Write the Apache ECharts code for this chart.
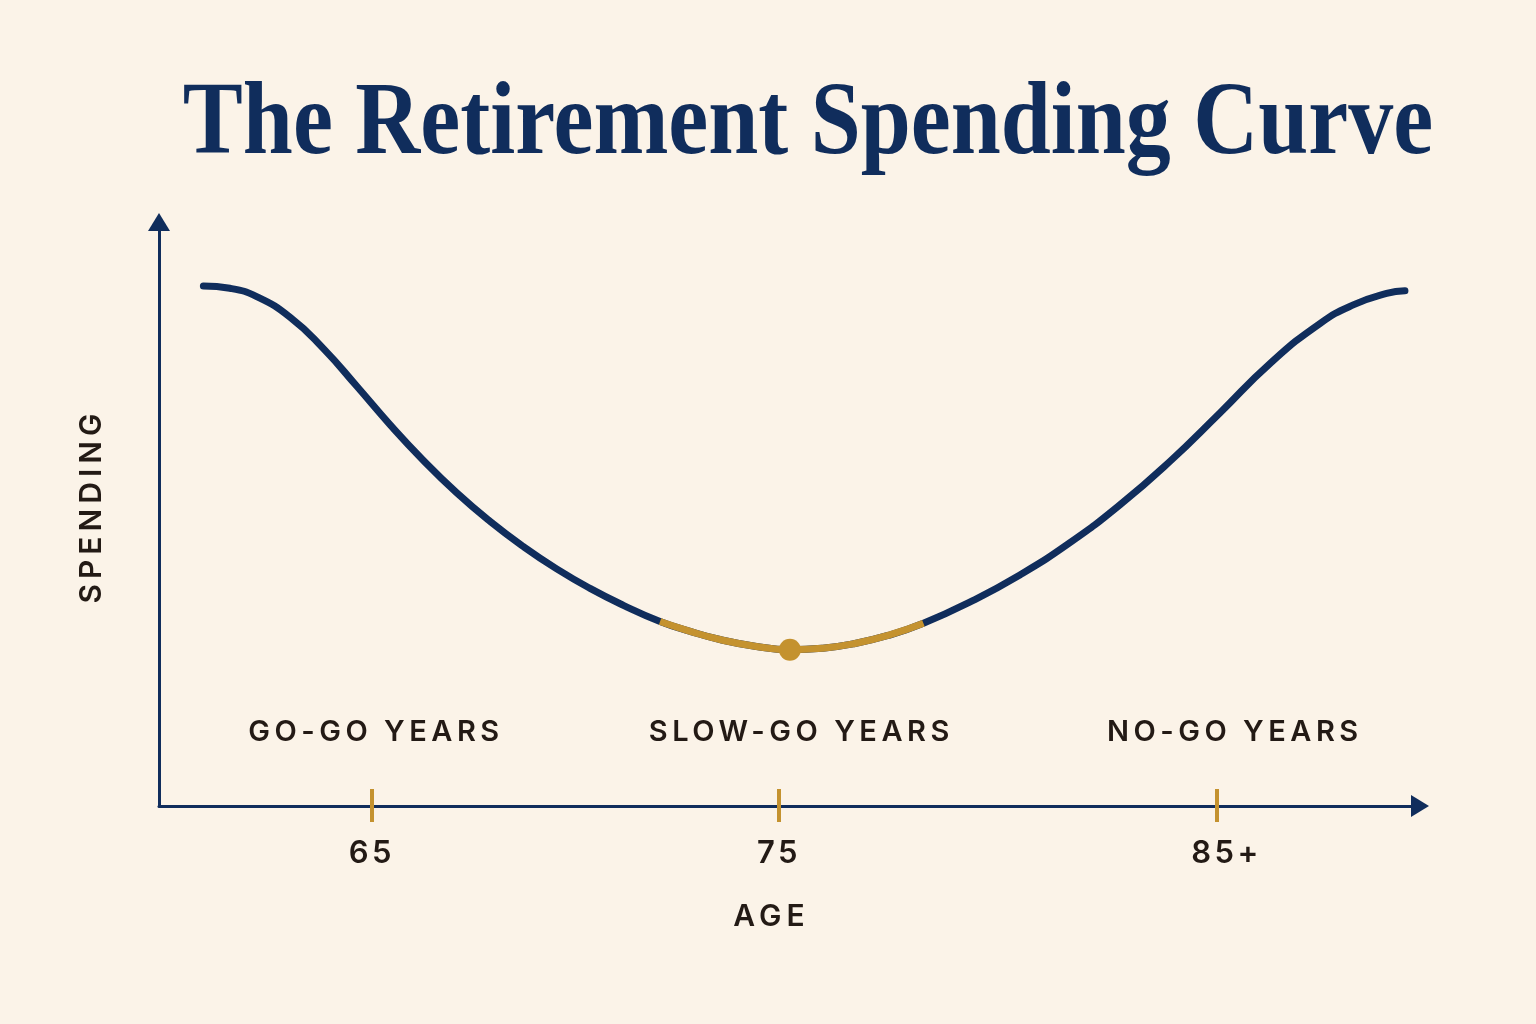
<!DOCTYPE html>
<html>
<head>
<meta charset="utf-8">
<title>The Retirement Spending Curve</title>
<script src="https://cdn.jsdelivr.net/npm/echarts@6.0.0/dist/echarts.min.js"></script>
<style>
    html, body { margin: 0; padding: 0; background: #fbf3e8; }
    #chart { width: 1536px; height: 1024px; }
</style>
</head>
<body>
<div id="chart"></div>
<script>
// curve: age -> relative spending (0..100)
var ages = [60.86, 61.51, 62.17, 62.99, 63.81, 64.63, 65.45, 66.26, 67.08, 67.90, 68.72, 69.54,
            70.36, 71.18, 72.08, 72.82, 73.55, 74.41, 75.27, 76.06, 76.82, 77.68, 78.55, 79.70,
            80.92, 82.15, 83.38, 84.61, 85.84, 87.07, 88.30, 89.11, 89.93, 90.38];
var spending = [89.50, 89.10, 87.65, 84.12, 78.71, 72.23, 65.59, 59.51, 53.93, 49.01, 44.66, 40.81,
                37.45, 34.54, 31.75, 30.05, 28.65, 27.50, 26.90, 27.15, 27.90, 29.35, 31.45, 35.13,
                39.77, 45.31, 51.83, 59.33, 67.69, 76.18, 83.07, 86.23, 88.20, 88.65];

// highlighted slow-go stretch and its low point
var slowGoFrom = 72.08;
var slowGoTo = 78.55;
var lowPoint = [75.27, 26.9];

// x axis ticks
var tickValues = [65, 75, 85.75];
var tickLabels = ['65', '75', '85+'];

// phase captions
var phaseNames = ['GO-GO YEARS', 'SLOW-GO YEARS', 'NO-GO YEARS'];
var phaseAges = [65.1, 75.55, 86.2];
var phaseLevel = 12.7;

var navy = '#102d5c';
var gold = '#c4922f';
var ink = '#231a15';

// letter spacing for the small caps labels (keyed on font size)
var spacingBySize = { '29': '4.5px', '30': '5px', '31': '3.5px' };
var rawFillText = CanvasRenderingContext2D.prototype.fillText;
CanvasRenderingContext2D.prototype.fillText = function (t, x, y, w) {
    if ('letterSpacing' in this) {
        var m = /(\d+)px/.exec(this.font);
        this.letterSpacing = (m && spacingBySize[m[1]]) || '0px';
    }
    return w === undefined ? rawFillText.call(this, t, x, y) : rawFillText.call(this, t, x, y, w);
};

var curve = ages.map(function (a, i) { return [a, spending[i]]; });
var slowGo = ages.map(function (a, i) {
    return (a >= slowGoFrom && a <= slowGoTo) ? [a, spending[i]] : [a, null];
});
var phases = phaseNames.map(function (n, i) { return { name: n, value: [phaseAges[i], phaseLevel] }; });

var myChart = echarts.init(document.getElementById('chart'));

var labelFont = {
    color: ink,
    fontFamily: 'Inter',
    fontWeight: 600
};

var xMin = 59.77;
var xMax = 90.75;

var option = {
    backgroundColor: '#fbf3e8',
    animation: false,
    graphic: [
        {
            type: 'text',
            x: 808,
            y: 126,
            scaleX: 0.865,
            style: {
                text: 'The Retirement Spending Curve',
                font: 'bold 104px "Liberation Serif"',
                fill: navy,
                textAlign: 'center',
                textVerticalAlign: 'middle'
            }
        }
    ],
    grid: {
        left: 159,
        right: 116,
        top: 222,
        bottom: 218
    },
    xAxis: [
        {
            type: 'value',
            min: xMin,
            max: xMax,
            name: 'AGE',
            nameLocation: 'middle',
            nameGap: 96,
            nameTextStyle: Object.assign({ fontSize: 30, padding: [0, 36, 0, 0] }, labelFont),
            axisLine: {
                lineStyle: { color: navy, width: 3 },
                symbol: ['none', 'triangle'],
                symbolSize: [22, 18]
            },
            axisTick: {
                customValues: tickValues,
                length: 16,
                lineStyle: { color: gold, width: 4 }
            },
            axisLabel: Object.assign({
                customValues: tickValues,
                margin: 32,
                fontSize: 31,
                formatter: function (v) {
                    var i = tickValues.indexOf(v);
                    if (i < 0) return '';
                    return tickLabels[i].indexOf('+') >= 0 ? '{plus|' + tickLabels[i] + '}' : tickLabels[i];
                },
                rich: {
                    plus: Object.assign({ fontSize: 31, padding: [0, 0, 0, 20] }, labelFont)
                }
            }, labelFont),
            splitLine: { show: false }
        },
        {
            // second copy of the axis only to draw the upper half of each tick
            type: 'value',
            position: 'bottom',
            min: xMin,
            max: xMax,
            axisLine: { show: false },
            axisTick: {
                customValues: tickValues,
                inside: true,
                length: 17,
                lineStyle: { color: gold, width: 4 }
            },
            axisLabel: { show: false },
            splitLine: { show: false }
        }
    ],
    yAxis: {
        type: 'value',
        min: 0,
        max: 100.5,
        name: 'SPENDING',
        nameLocation: 'middle',
        nameGap: 52,
        nameRotate: 90,
        nameTextStyle: Object.assign({ fontSize: 30, padding: [0, 0, 0, 16] }, labelFont),
        axisLine: {
            show: true,
            lineStyle: { color: navy, width: 3 },
            symbol: ['none', 'triangle'],
            symbolSize: [22, 18]
        },
        axisTick: { show: false },
        axisLabel: { show: false },
        splitLine: { show: false }
    },
    series: [
        {
            name: 'spending',
            type: 'line',
            data: curve,
            smooth: 0.5,
            showSymbol: false,
            lineStyle: { color: navy, width: 7, cap: 'round' },
            z: 2
        },
        {
            name: 'slow-go',
            type: 'line',
            data: slowGo,
            smooth: 0.5,
            showSymbol: false,
            connectNulls: false,
            lineStyle: { color: gold, width: 7, cap: 'butt' },
            z: 3
        },
        {
            name: 'low point',
            type: 'scatter',
            data: [lowPoint],
            symbolSize: 22,
            itemStyle: { color: gold, opacity: 1 },
            z: 4
        },
        {
            name: 'phases',
            type: 'scatter',
            data: phases,
            symbolSize: 0,
            itemStyle: { opacity: 1 },
            label: Object.assign({
                show: true,
                position: 'inside',
                formatter: '{b}',
                fontSize: 29
            }, labelFont),
            z: 4
        }
    ]
};

myChart.setOption(option);
</script>
</body>
</html>
